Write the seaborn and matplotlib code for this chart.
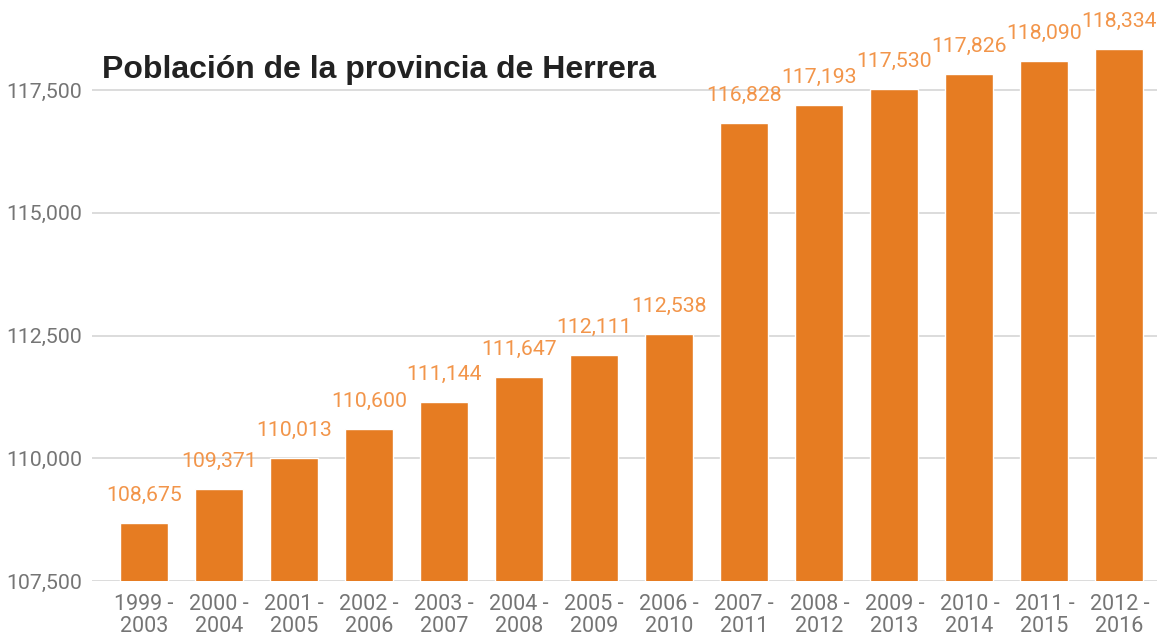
import matplotlib
matplotlib.use("Agg")
import matplotlib.pyplot as plt
import seaborn as sns
import pandas as pd

periods = ["1999 -\n2003", "2000 -\n2004", "2001 -\n2005", "2002 -\n2006", "2003 -\n2007",
           "2004 -\n2008", "2005 -\n2009", "2006 -\n2010", "2007 -\n2011", "2008 -\n2012",
           "2009 -\n2013", "2010 -\n2014", "2011 -\n2015", "2012 -\n2016"]
population = [108675, 109371, 110013, 110600, 111144, 111647, 112111,
              112538, 116828, 117193, 117530, 117826, 118090, 118334]
yticks = [107500, 110000, 112500, 115000, 117500]

BAR = "#E67C22"
LABEL = "#F2954A"
GREY = "#757575"

sns.set_style("white")
plt.rcParams["font.family"] = ["Roboto", "DejaVu Sans"]

df = pd.DataFrame({"period": periods, "population": population})

fig = plt.figure(figsize=(11.57, 6.38), dpi=100)
ax = fig.add_axes([92 / 1157, 57 / 638, 1 - 92 / 1157, 581 / 638])

sns.barplot(data=df, x="period", y="population", color=BAR, width=0.64,
            saturation=1, ax=ax, zorder=3)

# value labels above bars
for i, v in enumerate(population):
    ax.annotate(f"{v:,}", (i, v), xytext=(0, 13), textcoords="offset points",
                ha="center", va="bottom", fontsize=15.3, color=LABEL, zorder=4)

ax.set_ylim(107500, 119333)
ax.set_xlim(-0.69, 13.5)
ax.set_yticks(yticks)
ax.set_yticklabels([f"{t:,}" for t in yticks])
ax.yaxis.grid(True, color="#D6D6D6", linewidth=1.2, zorder=0)
ax.xaxis.grid(False)
ax.tick_params(axis="y", length=0, pad=7, labelsize=15.3, labelcolor=GREY)
ax.tick_params(axis="x", length=0, pad=9, labelsize=15.5, labelcolor=GREY)
for lbl in ax.get_xticklabels():
    lbl.set_linespacing(1.1)
for s in ax.spines.values():
    s.set_visible(False)
ax.set_xlabel("")
ax.set_ylabel("")

fig.text(102 / 1157, 1 - 70 / 638, "Población de la provincia de Herrera",
         fontsize=23, fontweight="bold", color="#222222", va="center", ha="left",
         family=["Liberation Sans", "DejaVu Sans"])

fig.savefig("out.png", dpi=100)
